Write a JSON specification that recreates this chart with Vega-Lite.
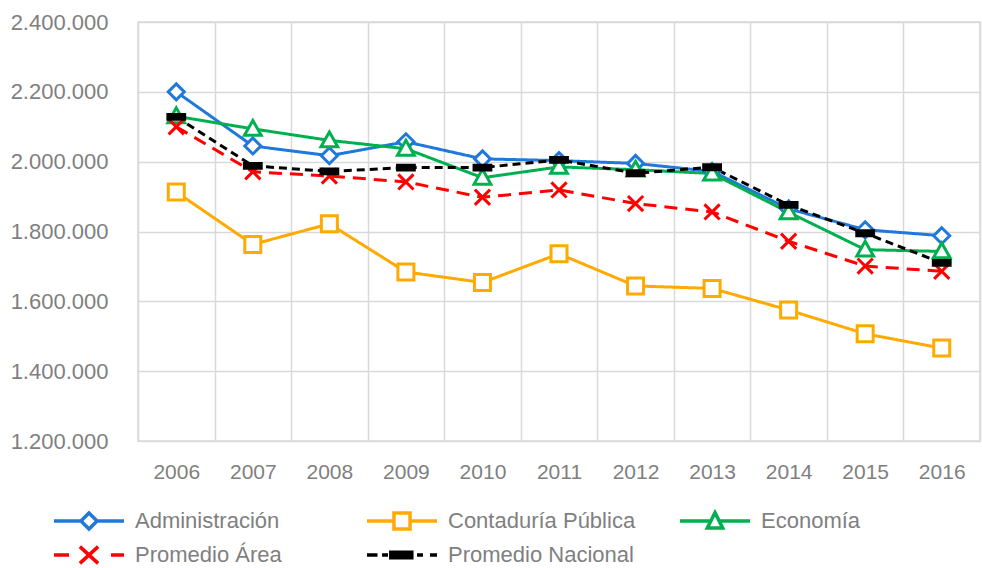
{
  "$schema": "https://vega.github.io/schema/vega-lite/v6.json",
  "autosize": {"type": "none"},
  "width": 842,
  "height": 419,
  "padding": {"left": 138, "top": 22, "right": 2, "bottom": 127},
  "background": "white",
  "config": {
    "locale": {"number": {"decimal": ",", "thousands": ".", "grouping": [3], "currency": ["$", ""]}},
    "view": {"stroke": "#D9D9D9", "strokeWidth": 1.5},
    "axis": {"gridColor": "#D9D9D9", "gridWidth": 1.5, "domain": false, "ticks": false, "labelColor": "#7F7F7F"}
  },
  "data": {"values": [
    {"year": "2006", "series": "Administración", "value": 2200000},
    {"year": "2007", "series": "Administración", "value": 2045000},
    {"year": "2008", "series": "Administración", "value": 2017000},
    {"year": "2009", "series": "Administración", "value": 2057000},
    {"year": "2010", "series": "Administración", "value": 2008000},
    {"year": "2011", "series": "Administración", "value": 2003000},
    {"year": "2012", "series": "Administración", "value": 1995000},
    {"year": "2013", "series": "Administración", "value": 1972000},
    {"year": "2014", "series": "Administración", "value": 1865000},
    {"year": "2015", "series": "Administración", "value": 1805000},
    {"year": "2016", "series": "Administración", "value": 1788000},
    {"year": "2006", "series": "Contaduría Pública", "value": 1913000},
    {"year": "2007", "series": "Contaduría Pública", "value": 1763000},
    {"year": "2008", "series": "Contaduría Pública", "value": 1822000},
    {"year": "2009", "series": "Contaduría Pública", "value": 1684000},
    {"year": "2010", "series": "Contaduría Pública", "value": 1654000},
    {"year": "2011", "series": "Contaduría Pública", "value": 1736000},
    {"year": "2012", "series": "Contaduría Pública", "value": 1644000},
    {"year": "2013", "series": "Contaduría Pública", "value": 1637000},
    {"year": "2014", "series": "Contaduría Pública", "value": 1575000},
    {"year": "2015", "series": "Contaduría Pública", "value": 1507000},
    {"year": "2016", "series": "Contaduría Pública", "value": 1466000},
    {"year": "2006", "series": "Economía", "value": 2130000},
    {"year": "2007", "series": "Economía", "value": 2094000},
    {"year": "2008", "series": "Economía", "value": 2061000},
    {"year": "2009", "series": "Economía", "value": 2037000},
    {"year": "2010", "series": "Economía", "value": 1954000},
    {"year": "2011", "series": "Economía", "value": 1985000},
    {"year": "2012", "series": "Economía", "value": 1977000},
    {"year": "2013", "series": "Economía", "value": 1966000},
    {"year": "2014", "series": "Economía", "value": 1855000},
    {"year": "2015", "series": "Economía", "value": 1748000},
    {"year": "2016", "series": "Economía", "value": 1743000},
    {"year": "2006", "series": "Promedio Área", "value": 2100000},
    {"year": "2007", "series": "Promedio Área", "value": 1971000},
    {"year": "2008", "series": "Promedio Área", "value": 1959000},
    {"year": "2009", "series": "Promedio Área", "value": 1942000},
    {"year": "2010", "series": "Promedio Área", "value": 1898000},
    {"year": "2011", "series": "Promedio Área", "value": 1919000},
    {"year": "2012", "series": "Promedio Área", "value": 1880000},
    {"year": "2013", "series": "Promedio Área", "value": 1856000},
    {"year": "2014", "series": "Promedio Área", "value": 1772000},
    {"year": "2015", "series": "Promedio Área", "value": 1701000},
    {"year": "2016", "series": "Promedio Área", "value": 1686000},
    {"year": "2006", "series": "Promedio Nacional", "value": 2128000},
    {"year": "2007", "series": "Promedio Nacional", "value": 1988000},
    {"year": "2008", "series": "Promedio Nacional", "value": 1972000},
    {"year": "2009", "series": "Promedio Nacional", "value": 1983000},
    {"year": "2010", "series": "Promedio Nacional", "value": 1983000},
    {"year": "2011", "series": "Promedio Nacional", "value": 2005000},
    {"year": "2012", "series": "Promedio Nacional", "value": 1967000},
    {"year": "2013", "series": "Promedio Nacional", "value": 1984000},
    {"year": "2014", "series": "Promedio Nacional", "value": 1876000},
    {"year": "2015", "series": "Promedio Nacional", "value": 1795000},
    {"year": "2016", "series": "Promedio Nacional", "value": 1710000}
  ]},
  "encoding": {
    "x": {"field": "year", "type": "ordinal", "scale": {"paddingInner": 0, "paddingOuter": 0},
      "axis": {"title": null, "labelAngle": 0, "tickBand": "extent", "labelPadding": 20, "labelFont": "Liberation Sans", "labelFontSize": 21, "grid": true}},
    "y": {"field": "value", "type": "quantitative", "scale": {"domain": [1200000, 2400000], "nice": false, "zero": false},
      "axis": {"title": null, "values": [1200000, 1400000, 1600000, 1800000, 2000000, 2200000, 2400000], "format": ",.0f", "labelPadding": 30, "labelFont": "Liberation Sans", "labelFontSize": 22}}
  },
  "layer": [
    {
      "mark": {"type": "line", "strokeWidth": 3},
      "encoding": {
        "stroke": {"field": "series", "type": "nominal", "legend": null,
          "scale": {"domain": ["Administración", "Contaduría Pública", "Economía", "Promedio Área", "Promedio Nacional"], "range": ["#1F78DA", "#FFAA00", "#00B050", "#FF0000", "#000000"]}},
        "strokeDash": {"field": "series", "type": "nominal", "legend": null,
          "scale": {"domain": ["Administración", "Contaduría Pública", "Economía", "Promedio Área", "Promedio Nacional"], "range": [[1, 0], [1, 0], [1, 0], [13, 8], [8, 5]]}}
      }
    },
    {
      "mark": {"type": "point", "size": 1600, "strokeWidth": 3, "opacity": 1, "filled": false},
      "encoding": {
        "shape": {"field": "series", "type": "nominal", "legend": null,
          "scale": {"domain": ["Administración", "Contaduría Pública", "Economía", "Promedio Área", "Promedio Nacional"],
            "range": ["M0,-0.4L0.4,0L0,0.4L-0.4,0Z", "M-0.4,-0.4H0.4V0.4H-0.4Z", "M0,-0.42L0.42,0.32H-0.42Z", "M-0.38,-0.38L0.38,0.38M0.38,-0.38L-0.38,0.38", "M-0.42,-0.12H0.42V0.12H-0.42Z"]}},
        "stroke": {"field": "series", "type": "nominal", "legend": null,
          "scale": {"domain": ["Administración", "Contaduría Pública", "Economía", "Promedio Área", "Promedio Nacional"], "range": ["#1F78DA", "#FFAA00", "#00B050", "#FF0000", "#000000"]}},
        "fill": {"field": "series", "type": "nominal", "legend": null,
          "scale": {"domain": ["Administración", "Contaduría Pública", "Economía", "Promedio Área", "Promedio Nacional"], "range": ["#FFFFFF", "#FFFFFF", "#FFFFFF", "#FF0000", "#000000"]}}
      }
    },
    {
      "mark": {"type": "point", "size": 4900, "strokeWidth": 3, "opacity": 0, "filled": false},
      "encoding": {
        "shape": {"field": "series", "type": "nominal",
          "scale": {"domain": ["Administración", "Promedio Área", "Contaduría Pública", "Promedio Nacional", "Economía"],
            "range": [
              "M-1,0H-0.24M0.24,0H1M0,-0.23L0.23,0L0,0.23L-0.23,0Z",
              "M-1,0H-0.57M0.63,0H1M-0.26,-0.24L0.26,0.24M0.26,-0.24L-0.26,0.24",
              "M-1,0H-0.23M0.23,0H1M-0.23,-0.23H0.23V0.23H-0.23Z",
              "M-1,0H-0.7M-0.57,0H-0.4M-0.32,-0.08H0.28V0.08H-0.32ZM0.43,0H0.6M0.8,0H1",
              "M-1,0H-0.12M0.12,0H1M0,-0.24L0.22,0.2H-0.22Z"
            ]},
          "legend": {"title": null, "orient": "none", "legendX": -86, "legendY": 482, "columns": 3, "gridAlign": "all", "columnPadding": 42, "rowPadding": 0, "clipHeight": 34,
            "symbolSize": 4900, "symbolStrokeWidth": 3.5, "symbolOpacity": 1, "labelOffset": 9, "labelFont": "Liberation Sans", "labelFontSize": 22, "labelColor": "#7F7F7F", "labelLimit": 400}},
        "stroke": {"field": "series", "type": "nominal",
          "scale": {"domain": ["Administración", "Promedio Área", "Contaduría Pública", "Promedio Nacional", "Economía"], "range": ["#1F78DA", "#FF0000", "#FFAA00", "#000000", "#00B050"]}},
        "fill": {"field": "series", "type": "nominal",
          "scale": {"domain": ["Administración", "Promedio Área", "Contaduría Pública", "Promedio Nacional", "Economía"], "range": ["#FFFFFF", "#FF0000", "#FFFFFF", "#000000", "#FFFFFF"]}}
      }
    }
  ],
  "resolve": {"scale": {"shape": "independent", "stroke": "independent", "fill": "independent", "strokeDash": "independent"}}
}
